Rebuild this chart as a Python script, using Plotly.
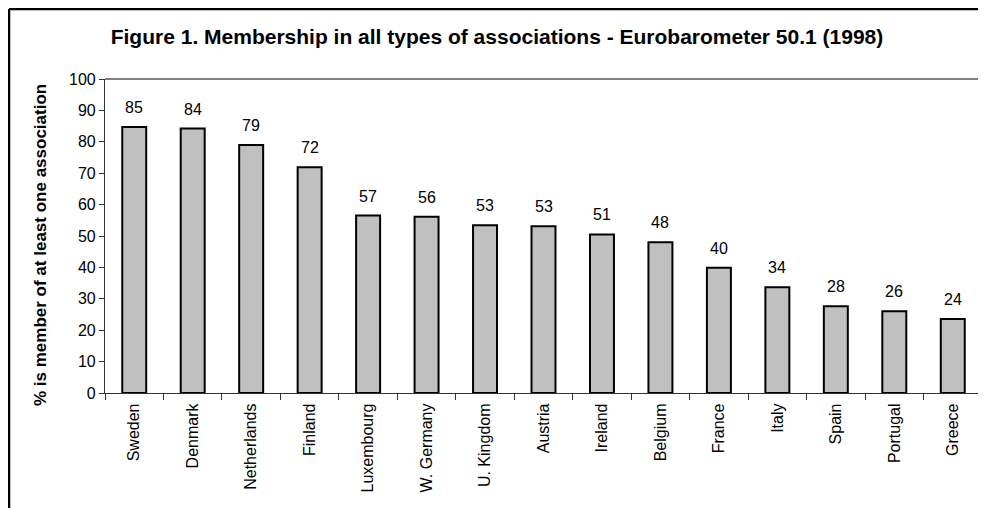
import plotly.graph_objects as go

countries = ["Sweden", "Denmark", "Netherlands", "Finland", "Luxembourg", "W. Germany",
             "U. Kingdom", "Austria", "Ireland", "Belgium", "France", "Italy", "Spain",
             "Portugal", "Greece"]
values = [84.7, 84.2, 79.0, 71.9, 56.5, 56.1, 53.4, 53.1, 50.5, 48.0, 39.9, 33.7, 27.6, 26.0, 23.6]
labels = ["85", "84", "79", "72", "57", "56", "53", "53", "51", "48", "40", "34", "28", "26", "24"]
yticks = list(range(0, 101, 10))

FONT = "Liberation Sans, Arial, sans-serif"

fig = go.Figure()
fig.add_trace(go.Bar(
    x=countries, y=values,
    marker=dict(color="#c0c0c0", line=dict(color="black", width=2)),
    width=0.41,
    hoverinfo="skip",
))

annotations = []
for c, v, t in zip(countries, values, labels):
    annotations.append(dict(x=c, y=v, text=t, showarrow=False, yanchor="bottom",
                            yshift=9, font=dict(family=FONT, size=16, color="black")))

annotations.append(dict(
    text="<b>% is member of at least one association</b>", textangle=-90,
    xref="paper", yref="paper", x=(32 - 97) / 877, y=(385 - 237) / 314,
    xanchor="center", yanchor="middle", showarrow=False,
    font=dict(family=FONT, size=17, color="black")))

fig.update_layout(
    width=978, height=500,
    margin=dict(l=97, r=4, t=71, b=115),
    paper_bgcolor="white", plot_bgcolor="white",
    showlegend=False,
    title=dict(text="<b>Figure 1. Membership in all types of associations - Eurobarometer 50.1 (1998)</b>",
               x=0.5, xref="container", xanchor="center",
               y=1 - 29 / 500, yref="container", yanchor="middle",
               font=dict(family=FONT, size=21, color="black")),
    annotations=annotations,
    xaxis=dict(
        showline=True, linecolor="#333333", linewidth=1.2,
        ticks="outside", tickson="boundaries", ticklen=6, tickcolor="#333333",
        tickangle=-90, tickfont=dict(family=FONT, size=16, color="black"),
        ticklabelstandoff=3,
        showgrid=False,
    ),
    yaxis=dict(
        range=[0, 100], tickvals=yticks,
        showline=True, linecolor="#333333", linewidth=1.2,
        ticks="outside", ticklen=5, tickcolor="#333333",
        tickfont=dict(family=FONT, size=16, color="black"),
        showgrid=False, zeroline=False,
    ),
    shapes=[
        dict(type="line", xref="paper", yref="paper", x0=0, x1=1, y0=1, y1=1,
             line=dict(color="#808080", width=1.8)),
        dict(type="line", xref="paper", yref="paper", x0=1, x1=1, y0=0, y1=1,
             line=dict(color="#808080", width=1.8)),
        dict(type="line", xref="paper", yref="paper", x0=-96 / 877, x1=1.01, y0=(385 - 1) / 314, y1=(385 - 1) / 314,
             line=dict(color="black", width=2.5)),
        dict(type="line", xref="paper", yref="paper", x0=-96 / 877, x1=-96 / 877, y0=(385 - 1) / 314, y1=-0.5,
             line=dict(color="black", width=2.5)),
    ],
)

fig.write_html("out.html")
